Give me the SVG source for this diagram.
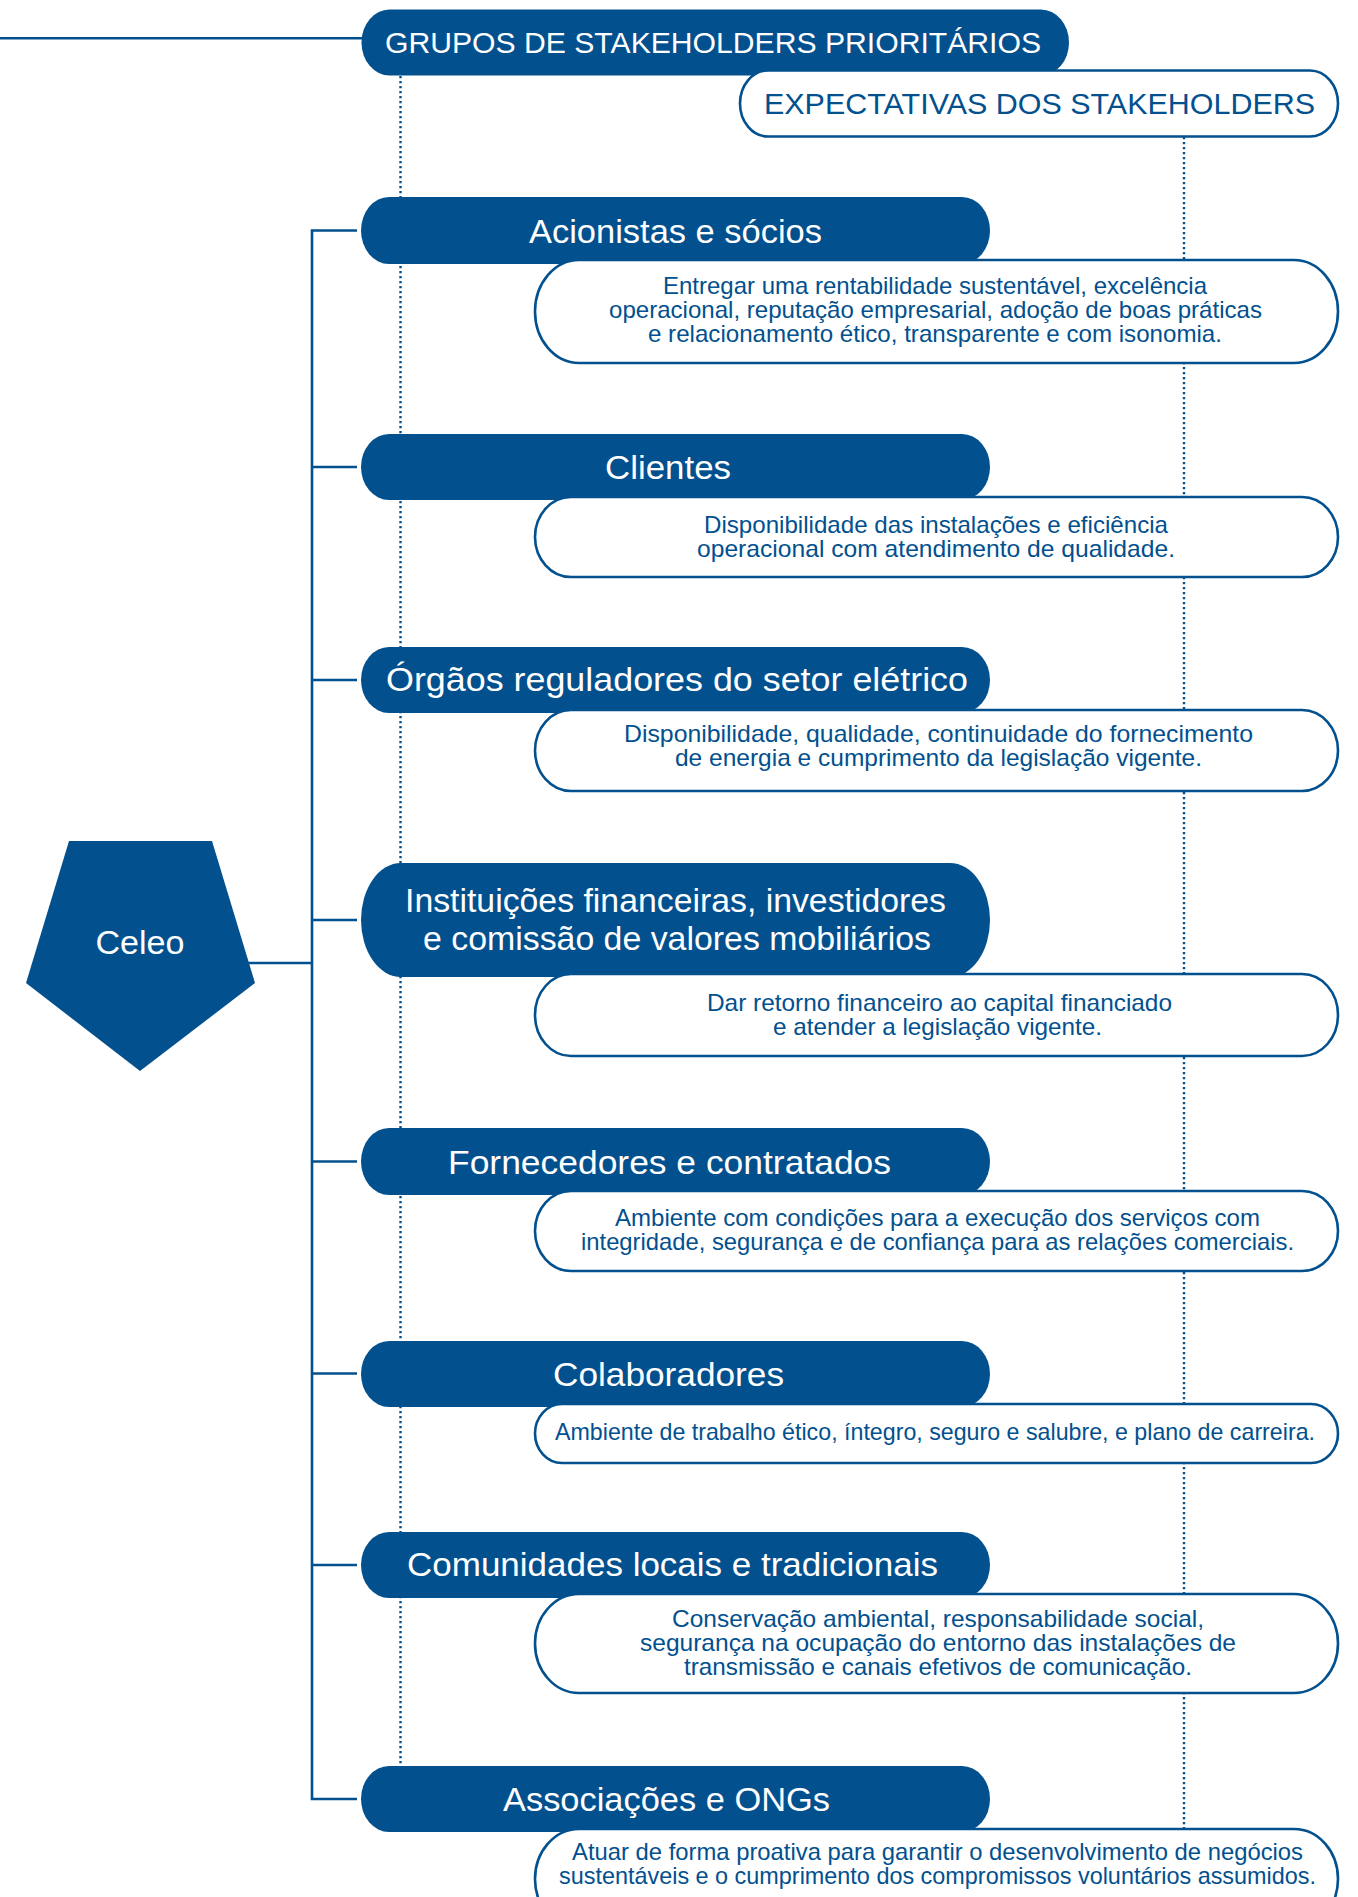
<svg xmlns="http://www.w3.org/2000/svg" width="1358" height="1897" viewBox="0 0 1358 1897">
<style>
.pill{fill:#02508e}
.box{fill:#fff;stroke:#02508e;stroke-width:2.6}
.pt{font-family:"Liberation Sans",Arial,sans-serif;font-size:34px;fill:#fff;text-anchor:middle}
.ht{font-family:"Liberation Sans",Arial,sans-serif;font-size:30px;text-anchor:middle}
.bt{font-family:"Liberation Sans",Arial,sans-serif;font-size:24px;fill:#02508e;text-anchor:middle}
.ln{fill:none;stroke:#02508e;stroke-width:2.6}
.dot{fill:none;stroke:#02508e;stroke-width:2.4;stroke-dasharray:2.2 2.8}
</style>
<rect width="1358" height="1897" fill="#fff"/>
<g id="connectors">
<line class="dot" x1="400.5" y1="76" x2="400.5" y2="1766"/>
<line class="dot" x1="1184" y1="137" x2="1184" y2="1829"/>
<line class="ln" x1="0" y1="38.3" x2="362" y2="38.3"/>
<path class="ln" d="M357 230.5 H312 V1799 H357"/>
<line class="ln" x1="245" y1="963" x2="312" y2="963"/>
<line class="ln" x1="312" y1="467" x2="357" y2="467"/>
<line class="ln" x1="312" y1="680" x2="357" y2="680"/>
<line class="ln" x1="312" y1="920" x2="357" y2="920"/>
<line class="ln" x1="312" y1="1161.5" x2="357" y2="1161.5"/>
<line class="ln" x1="312" y1="1373.5" x2="357" y2="1373.5"/>
<line class="ln" x1="312" y1="1565" x2="357" y2="1565"/>
</g>
<g id="header-grupos">
<rect class="pill" x="361.5" y="9.5" width="707.5" height="66" rx="28" ry="33"/>
<text class="ht" x="713" y="53" fill="#fff" textLength="656" lengthAdjust="spacingAndGlyphs">GRUPOS DE STAKEHOLDERS PRIORITÁRIOS</text>
</g>
<g id="header-expectativas">
<rect class="box" x="740" y="70.5" width="598" height="66" rx="28" ry="33"/>
<text class="ht" x="1039.5" y="114" fill="#02508e" textLength="551" lengthAdjust="spacingAndGlyphs">EXPECTATIVAS DOS STAKEHOLDERS</text>
</g>
<g id="celeo">
<polygon class="pill" points="69,841 212,841 255,983 140,1071 26,983"/>
<text class="pt" x="140" y="954" textLength="89" lengthAdjust="spacingAndGlyphs">Celeo</text>
</g>
<g id="acionistas">
<rect class="pill" x="361" y="197" width="629" height="67" rx="28" ry="33.5"/>
<text class="pt" x="675.5" y="242.5" textLength="293" lengthAdjust="spacingAndGlyphs">Acionistas e sócios</text>
<rect class="box" x="535" y="260" width="803" height="103" rx="44" ry="51.5"/>
<text class="bt" x="935" y="294" textLength="544" lengthAdjust="spacingAndGlyphs">Entregar uma rentabilidade sustentável, excelência</text>
<text class="bt" x="935.5" y="318" textLength="653" lengthAdjust="spacingAndGlyphs">operacional, reputação empresarial, adoção de boas práticas</text>
<text class="bt" x="935" y="342" textLength="574" lengthAdjust="spacingAndGlyphs">e relacionamento ético, transparente e com isonomia.</text>
</g>
<g id="clientes">
<rect class="pill" x="361" y="434" width="629" height="66" rx="28" ry="33"/>
<text class="pt" x="668" y="479" textLength="126" lengthAdjust="spacingAndGlyphs">Clientes</text>
<rect class="box" x="535" y="497" width="803" height="80" rx="36" ry="40"/>
<text class="bt" x="936" y="533" textLength="464" lengthAdjust="spacingAndGlyphs">Disponibilidade das instalações e eficiência</text>
<text class="bt" x="936" y="557" textLength="478" lengthAdjust="spacingAndGlyphs">operacional com atendimento de qualidade.</text>
</g>
<g id="orgaos">
<rect class="pill" x="361" y="647" width="629" height="66" rx="28" ry="33"/>
<text class="pt" x="677" y="691" textLength="582" lengthAdjust="spacingAndGlyphs">Órgãos reguladores do setor elétrico</text>
<rect class="box" x="535" y="710" width="803" height="81" rx="36" ry="40.5"/>
<text class="bt" x="938.5" y="742" textLength="629" lengthAdjust="spacingAndGlyphs">Disponibilidade, qualidade, continuidade do fornecimento</text>
<text class="bt" x="938.5" y="766" textLength="527" lengthAdjust="spacingAndGlyphs">de energia e cumprimento da legislação vigente.</text>
</g>
<g id="instituicoes">
<rect class="pill" x="361" y="863" width="629" height="114" rx="40" ry="57"/>
<text class="pt" x="675.5" y="912" textLength="541" lengthAdjust="spacingAndGlyphs">Instituições financeiras, investidores</text>
<text class="pt" x="677" y="950" textLength="508" lengthAdjust="spacingAndGlyphs">e comissão de valores mobiliários</text>
<rect class="box" x="535" y="974" width="803" height="82" rx="36" ry="41"/>
<text class="bt" x="939.5" y="1011" textLength="465" lengthAdjust="spacingAndGlyphs">Dar retorno financeiro ao capital financiado</text>
<text class="bt" x="937.5" y="1035" textLength="329" lengthAdjust="spacingAndGlyphs">e atender a legislação vigente.</text>
</g>
<g id="fornecedores">
<rect class="pill" x="361" y="1128" width="629" height="67" rx="28" ry="33.5"/>
<text class="pt" x="669.5" y="1173.5" textLength="443" lengthAdjust="spacingAndGlyphs">Fornecedores e contratados</text>
<rect class="box" x="535" y="1191" width="803" height="80" rx="36" ry="40"/>
<text class="bt" x="937.5" y="1226" textLength="645" lengthAdjust="spacingAndGlyphs">Ambiente com condições para a execução dos serviços com</text>
<text class="bt" x="937.5" y="1250" textLength="713" lengthAdjust="spacingAndGlyphs">integridade, segurança e de confiança para as relações comerciais.</text>
</g>
<g id="colaboradores">
<rect class="pill" x="361" y="1341" width="629" height="66" rx="28" ry="33"/>
<text class="pt" x="668.5" y="1385.5" textLength="231" lengthAdjust="spacingAndGlyphs">Colaboradores</text>
<rect class="box" x="535" y="1404" width="803" height="59" rx="27" ry="29.5"/>
<text class="bt" x="935" y="1440" textLength="760" lengthAdjust="spacingAndGlyphs">Ambiente de trabalho ético, íntegro, seguro e salubre, e plano de carreira.</text>
</g>
<g id="comunidades">
<rect class="pill" x="361" y="1532" width="629" height="66" rx="28" ry="33"/>
<text class="pt" x="672.5" y="1576" textLength="531" lengthAdjust="spacingAndGlyphs">Comunidades locais e tradicionais</text>
<rect class="box" x="535" y="1594" width="803" height="99" rx="44" ry="49.5"/>
<text class="bt" x="938" y="1627" textLength="532" lengthAdjust="spacingAndGlyphs">Conservação ambiental, responsabilidade social,</text>
<text class="bt" x="938" y="1651" textLength="596" lengthAdjust="spacingAndGlyphs">segurança na ocupação do entorno das instalações de</text>
<text class="bt" x="938" y="1675" textLength="508" lengthAdjust="spacingAndGlyphs">transmissão e canais efetivos de comunicação.</text>
</g>
<g id="associacoes">
<rect class="pill" x="361" y="1766" width="629" height="66" rx="28" ry="33"/>
<text class="pt" x="666.5" y="1811" textLength="327" lengthAdjust="spacingAndGlyphs">Associações e ONGs</text>
<rect class="box" x="535" y="1829" width="803" height="100" rx="44" ry="50"/>
<text class="bt" x="937.5" y="1860" textLength="731" lengthAdjust="spacingAndGlyphs">Atuar de forma proativa para garantir o desenvolvimento de negócios</text>
<text class="bt" x="937.5" y="1884" textLength="757" lengthAdjust="spacingAndGlyphs">sustentáveis e o cumprimento dos compromissos voluntários assumidos.</text>
</g>
</svg>
